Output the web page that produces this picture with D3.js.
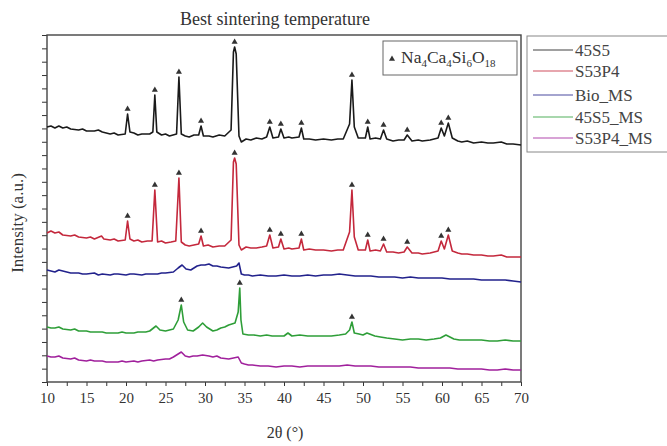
<!DOCTYPE html>
<html><head><meta charset="utf-8">
<script src="https://cdn.jsdelivr.net/npm/d3@7"></script>
<style>body{margin:0;background:#fff}svg{display:block}text{font-family:"Liberation Serif","DejaVu Serif",serif}</style>
</head><body><svg id="c" width="667" height="446"></svg>
<script>
const title = "Best sintering temperature";
const xLabel = "2θ (°)";
const yLabel = "Intensity (a.u.)";
const xTicks = [10,15,20,25,30,35,40,45,50,55,60,65,70];
const seriesNames = ["45S5","S53P4","Bio_MS","45S5_MS","S53P4_MS"];
const seriesColors = ["#1a1a1a","#c4283c","#22228c","#2e9e38","#a0209c"];

const s45S5 = [[10,255],[10.5,256],[11,254],[11.5,256],[12,254],[12.5,255],[13,253],[14,252],[14.5,253],[15,251],[16,251],[16.5,252],[17,250],[18,248],[18.5,249],[19,247],[19.9,248],[20.2,268],[20.5,250],[21,249],[21.5,247],[22,248],[23,248],[23.4,250],[23.65,287],[23.9,250],[24.5,247],[25,248],[25.5,246],[26.4,248],[26.7,305],[27.0,248],[27.5,246],[28,245],[28.6,247],[29.2,247],[29.5,256],[29.8,246],[30.5,246],[31,245],[31.8,247],[32.5,246],[33.3,252],[33.6,330],[33.75,335],[33.95,328],[34.3,246],[34.6,240],[35.2,243],[35.8,242],[36.5,244],[37.2,243],[37.8,245],[38.2,255],[38.6,244],[39.3,245],[39.6,253],[40,244],[40.6,245],[41,244],[41.9,245],[42.2,254],[42.5,243],[43.2,243],[44,242],[45,243],[46,242],[46.8,243],[47.5,243],[48.3,258],[48.6,302],[48.9,255],[49.4,244],[50.3,244],[50.6,255],[50.9,243],[51.6,244],[52.2,243],[52.6,252],[53,243],[53.8,241],[54.5,242],[55.2,242],[55.6,247],[56.2,241],[57,242],[57.5,241],[58.5,242],[59.5,244],[59.9,254],[60.3,246],[60.8,259],[61.3,244],[62,241],[62.5,240],[63.2,241],[64,239],[65,240],[65.8,239],[66.5,239],[67.5,240],[68.2,238],[69,238],[70,237]];
const sS53P4 = [[10,149],[10.5,151],[11,149],[11.5,150],[12,147],[13,146],[13.5,147],[14,145],[15,144],[15.5,145],[16,143],[16.9,146],[17.2,143],[18,142],[18.5,143],[19,141],[19.9,142],[20.2,161],[20.5,143],[21,141],[21.5,142],[22,140],[22.7,141],[23.3,141],[23.65,192],[24.0,140],[24.5,141],[25,139],[25.7,140],[26.3,141],[26.7,204],[27.0,140],[27.5,137],[28,136],[28.6,137],[29.2,138],[29.5,146],[29.8,136],[30.4,137],[31,135],[31.8,136],[32.5,136],[33.3,142],[33.6,220],[33.75,224],[33.95,218],[34.3,137],[34.6,132],[35.2,135],[35.8,134],[36.5,134],[37.2,135],[37.8,136],[38.2,147],[38.6,134],[39.3,135],[39.6,143],[40,133],[40.6,134],[41,133],[41.9,134],[42.2,143],[42.5,132],[43.2,133],[44,132],[45,132],[46,131],[46.8,132],[47.5,132],[48.3,150],[48.6,192],[48.9,145],[49.4,132],[50.3,132],[50.6,142],[50.9,131],[51.6,132],[52.2,131],[52.6,138],[53,130],[53.8,130],[54.5,129],[55.2,130],[55.6,135],[56.2,129],[57,129],[57.5,128],[58.5,129],[59.5,131],[59.9,141],[60.3,133],[60.8,147],[61.3,131],[62,129],[62.5,128],[63.2,128],[64,127],[65,127],[65.8,126],[66.5,126],[67.5,127],[68.2,125],[69,125],[70,125]];
const sBioMS = [[10,112],[10.5,111],[11,110],[11.5,112],[12,111],[12.5,110],[13,109],[14,109],[14.5,108],[15,108],[16,109],[16.5,107],[17,108],[18,107],[18.5,108],[19,108],[20,107],[20.5,108],[21,108],[22,107],[22.5,108],[23,108],[24,108],[24.5,109],[25,109],[26,110],[26.6,114],[27.1,117],[27.6,113],[28.2,112],[29,116],[29.5,117],[30,117],[30.5,118],[31,116],[31.5,116],[32,115],[33,114],[33.5,115],[34,116],[34.3,119],[34.6,108],[35,107],[35.5,107],[36,106],[37,107],[38,106],[39,106],[40,107],[41,106],[42,106],[43,107],[44,106],[45,107],[46,107],[47,108],[48,107],[49,106],[50,106],[51,106],[52,105],[53,105],[54,105],[55,104],[56,105],[57,104],[58,104],[59,104],[60,104],[61,103],[62,103],[63,103],[64,103],[65,102],[66,102],[67,102],[68,102],[69,101],[70,100]];
const s45S5MS = [[10,55],[10.5,54],[11,54],[11.5,55],[12,53],[13,52],[13.5,53],[14,51],[15,51],[15.5,50],[16,50],[17,50],[17.5,49],[18,49],[19,49],[19.5,50],[20,49],[21,49],[21.5,50],[22,50],[22.5,50],[23,51],[23.8,56],[24.3,52],[25,51],[25.5,52],[26,53],[26.6,62],[27.0,77],[27.3,60],[27.8,52],[28.5,51],[29.2,55],[29.7,59],[30.2,55],[30.6,53],[31,51],[31.5,52],[32,54],[32.5,55],[33,57],[33.8,59],[34.2,70],[34.4,94],[34.55,62],[34.8,48],[35.5,47],[36.2,47],[37,46],[37.8,47],[38.5,46],[39.2,46],[40,46],[40.5,49],[41,46],[42,47],[43,46],[44,46],[45,46],[46,46],[47,47],[47.8,48],[48.3,52],[48.6,60],[48.9,49],[49.5,48],[50,47],[50.5,49],[51.5,46],[52.2,45],[53,44],[54,43],[55,42],[56,43],[57,43],[58,42],[59,43],[59.8,44],[60.5,47],[61.5,43],[62.2,42],[63,42],[64,42],[65,42],[66,41],[67,41],[68,42],[69,41],[70,41]];
const sS53P4MS = [[10,26],[10.5,25],[11,25],[11.5,26],[12,24],[13,23],[13.5,24],[14,22],[15,21],[15.5,22],[16,21],[17,21],[17.5,20],[18,20],[19,20],[19.5,21],[20,20],[21,21],[21.5,20],[22,21],[23,22],[23.5,21],[24,22],[25,23],[25.5,23],[26,25],[26.6,28],[27,30],[27.5,26],[28,25],[28.5,26],[29,26],[29.7,27],[30.5,26],[31,25],[31.5,26],[32,24],[33,23],[33.6,24],[34.2,25],[34.6,19],[35,18],[35.5,17],[36,17],[37,16],[38,16],[39,15],[40,16],[41,16],[42,15],[43,16],[44,16],[45,16],[46,16],[47,16],[48,17],[49,16],[50,16],[51,16],[52,15],[53,15],[54,15],[55,15],[56,15],[57,14],[58,14],[59,14],[60,14],[61,14],[62,13],[63,13],[64,13],[65,13],[66,12],[67,12],[68,13],[69,12],[70,12]];
const seriesData = [s45S5, sS53P4, sBioMS, s45S5MS, sS53P4MS];

const peakMarks45S5 = [20.2,23.65,26.7,29.5,33.75,38.2,39.6,42.2,48.6,50.6,52.6,55.6,59.9,60.8];
const peakMarksS53P4 = [20.2,23.65,26.7,29.5,33.75,38.2,39.6,42.2,48.6,50.6,52.6,55.6,59.9,60.8];
const peakMarks45S5MS = [27.0,34.4,48.6];
const markSets = [[0,peakMarks45S5],[1,peakMarksS53P4],[3,peakMarks45S5MS]];

const svg = d3.select("#c");
const L=47, R=521, T=35, B=382;
const x = d3.scaleLinear().domain([10,70]).range([L,R]);
const yMax = 347;
const y = d3.scaleLinear().domain([0,yMax]).range([B,T]);

// axes
const xMinor = d3.range(10,70.01,2.5);
svg.append("g").attr("transform",`translate(0,${B})`)
  .call(d3.axisBottom(x).tickValues(xMinor).tickSize(4).tickFormat(d=> xTicks.includes(d)? d3.format("d")(d):""))
  .call(g=>{g.select(".domain").remove();g.selectAll("line").attr("stroke","#333");
    g.selectAll("text").attr("font-size",15).attr("fill","#333").attr("font-family","'Liberation Serif',serif").attr("dy","0.95em");});
const yTickVals = d3.range(0,27).map(i=>i*yMax/26);
svg.append("g").attr("transform",`translate(${L},0)`)
  .call(d3.axisLeft(y).tickValues(yTickVals).tickSize(5).tickFormat(""))
  .call(g=>{g.select(".domain").remove();g.selectAll("line").attr("stroke","#333");});
svg.append("rect").attr("x",L).attr("y",T).attr("width",R-L).attr("height",B-T)
  .attr("fill","none").attr("stroke","#444").attr("stroke-width",1.4);

// lines
const line = d3.line().x(d=>x(d[0])).y(d=>y(d[1]));
seriesData.forEach((d,i)=>{
  svg.append("path").datum(d).attr("d",line).attr("fill","none")
    .attr("stroke",seriesColors[i]).attr("stroke-width",1.6).attr("stroke-linejoin","round");
});

// peak markers
const tri = d3.symbol().type(d3.symbolTriangle).size(16);
markSets.forEach(([si,angles])=>{
  const data = seriesData[si];
  angles.forEach(a=>{
    const near = data.filter(p=>Math.abs(p[0]-a)<0.2);
    const top = d3.max(near,p=>p[1]);
    svg.append("path").attr("d",tri)
      .attr("transform",`translate(${x(a)},${y(top)-5})`).attr("fill","#333");
  });
});

// inner legend
svg.append("rect").attr("x",383).attr("y",41).attr("width",134).attr("height",34)
  .attr("fill","#fff").attr("stroke","#666").attr("stroke-width",1);
svg.append("path").attr("d",tri).attr("transform","translate(392,59)").attr("fill","#333");
const lt = svg.append("text").attr("x",401).attr("y",63).attr("font-size",17.5).attr("fill","#333");
[["Na",""],["4","s"],["Ca",""],["4","s"],["Si",""],["6","s"],["O",""],["18","s"]].forEach(([t,k])=>{
  const ts = lt.append("tspan").text(t);
  if(k==="s") ts.attr("font-size",11).attr("dy",4); else ts.attr("dy", t==="Na"?0:-4);
});

// right legend
svg.append("rect").attr("x",527).attr("y",36).attr("width",150).attr("height",116)
  .attr("fill","#fff").attr("stroke","#888").attr("stroke-width",1);
const legY = [50,71,95,117,138];
seriesNames.forEach((n,i)=>{
  svg.append("line").attr("x1",533).attr("x2",573).attr("y1",legY[i]).attr("y2",legY[i])
    .attr("stroke",seriesColors[i]).attr("stroke-opacity",0.55).attr("stroke-width",1.3);
  svg.append("text").attr("x",575).attr("y",legY[i]+6).attr("font-size",17).attr("fill","#444").text(n);
});

// titles
svg.append("text").attr("x",275).attr("y",25).attr("text-anchor","middle").attr("font-size",18).attr("fill","#333").text(title);
svg.append("text").attr("x",285).attr("y",438).attr("text-anchor","middle").attr("font-size",16).attr("fill","#333").text(xLabel);
svg.append("text").attr("transform","translate(23,223) rotate(-90)").attr("text-anchor","middle").attr("font-size",17).attr("fill","#333").text(yLabel);
</script></body></html>
